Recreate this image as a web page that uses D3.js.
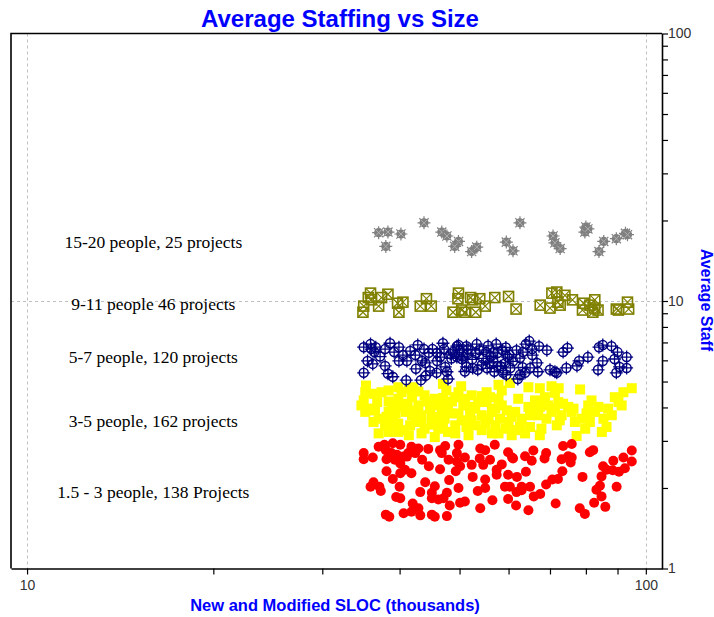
<!DOCTYPE html>
<html lang="en">
<head>
<meta charset="UTF-8">
<title>Average Staffing vs Size</title>
<script src="https://cdn.jsdelivr.net/npm/d3@7"></script>
<style>
  body { margin: 0; background: #fff; font-family: Arial, "Liberation Sans", sans-serif; }
  svg { display: block; }
</style>
</head>
<body>
<div id="chart"></div>
<script>
// [SLOC thousands, average staff]
const staff15to20 = [
  [37.0,18.0],[38.3,18.1],[40.2,17.8],[38.0,16.0],[43.8,19.6],[46.8,18.1],[47.7,17.5],[49.8,16.7],
  [49.1,16.0],[52.3,15.3],[53.3,15.9],[62.6,19.6],[59.5,16.6],[61.0,15.4],[70.8,17.5],[71.3,16.5],
  [72.7,15.7],[80.0,18.9],[79.7,18.1],[85.5,16.7],[84.0,15.3],[89.6,17.1],[92.7,17.9],[80.6,18.6],
  [93.4,17.7]
];
const staff9to11 = [
  [35.9,10.7],[35.6,10.3],[36.0,10.1],[35.0,9.57],[34.9,9.08],[37.4,10.3],[37.0,9.57],[38.3,10.6],
  [39.7,9.81],[40.5,9.90],[39.9,9.08],[43.2,9.57],[44.2,10.2],[45.0,9.57],[49.8,10.7],[49.7,10.2],
  [52.1,10.3],[52.5,10.1],[53.9,10.2],[55.0,9.57],[57.0,10.3],[48.8,9.08],[50.4,9.25],[53.1,9.08],
  [51.0,9.08],[60.0,10.4],[61.7,9.33],[71.8,10.8],[74.0,10.5],[72.1,9.90],[72.7,9.65],[70.0,9.41],
  [76.1,10.1],[79.3,9.81],[79.0,9.25],[82.7,10.1],[82.7,9.41],[82.1,9.08],[89.6,9.33],[90.3,9.25],
  [93.4,9.90],[93.8,9.33],[70.5,10.7],[81.2,9.65],[83.7,9.25],[67.5,9.65]
];
const staff5to7 = [
  [35.0,6.72],[35.9,6.90],[36.0,6.61],[36.6,6.72],[37.9,6.61],[39.2,6.44],[39.9,6.72],[40.5,6.28],
  [42.4,6.28],[43.8,6.61],[45.2,6.61],[47.2,6.61],[49.5,6.78],[51.3,6.78],[53.3,6.90],[55.2,6.44],
  [56.7,6.44],[57.6,6.39],[35.5,5.97],[36.2,5.82],[37.9,5.72],[39.9,5.97],[41.1,5.97],[43.5,5.97],
  [44.0,5.87],[46.0,5.97],[47.4,5.67],[48.3,6.33],[49.5,6.17],[50.4,6.07],[51.5,6.33],[53.1,6.39],
  [51.3,5.67],[52.5,5.62],[53.5,5.53],[54.3,5.77],[55.9,5.87],[56.7,5.92],[57.6,5.72],[35.0,5.39],
  [38.3,5.35],[39.0,5.21],[41.0,5.06],[42.5,5.58],[43.3,5.06],[44.1,5.26],[44.8,5.48],[45.9,5.39],
  [47.7,5.44],[47.9,5.11],[56.9,5.44],[46.5,6.17],[48.8,6.44],[50.0,6.55],
  [64.8,7.08],[67.2,6.78],[69.2,6.55],[63.3,6.44],[65.5,6.61],[62.6,6.12],[65.5,6.28],[73.5,6.44],
  [74.7,6.67],[84.0,6.72],[85.2,6.84],[88.0,6.78],[90.0,6.44],[93.1,6.17],[89.0,6.07],[85.2,5.97],
  [80.6,6.17],[78.0,5.97],[77.4,5.72],[74.4,5.62],[70.0,5.53],[71.3,5.44],[71.8,5.39],[66.9,5.44],
  [65.0,5.62],[63.8,5.39],[62.6,5.30],[62.1,5.11],[59.8,6.17],[59.3,5.87],[60.4,5.62],[58.8,5.39],
  [59.5,5.30],[83.7,5.53],[89.6,5.39],[93.1,5.62],[90.7,5.67],[66.7,5.87],
  [46.0,6.40],[47.0,6.95],[48.5,6.10],[49.8,6.85],[50.6,6.20],[51.6,6.60],[52.4,6.05],[53.8,6.55],
  [54.6,6.10],[55.6,6.80],[56.2,6.20],[57.3,6.90],[58.6,6.55],[59.4,6.70],[60.2,6.30],[61.0,5.95],
  [61.8,6.55],[63.2,5.65],[64.0,6.90],[58.2,5.70],[55.4,5.60],[51.0,5.45],[44.6,6.40],[42.8,6.85],
  [41.6,6.50],[38.6,6.95],[37.2,6.20],[36.4,6.45]
];
const staff3to5 = [
  [35.3,4.83],[35.2,4.56],[36.3,4.50],[38.4,4.63],[39.8,4.76],[41.4,4.70],[42.1,4.76],[42.9,4.59],
  [47.0,4.90],[47.6,4.63],[50.3,4.80],[54.3,4.41],[55.3,4.56],[57.8,4.86],[58.5,4.63],[60.3,4.94],
  [64.6,4.76],[67.4,4.72],[70.4,4.80],[71.3,4.54],[72.3,4.72],[78.3,4.67],[81.7,4.25],[89.1,4.37],
  [92.0,4.56],[94.9,4.72],[90.3,4.19],
  [35.0,4.25],[36.8,4.19],[38.4,4.21],[39.8,4.31],[40.6,4.13],[41.9,4.37],[42.9,4.07],[44.2,4.21],
  [45.6,4.31],[47.0,4.34],[48.6,4.21],[49.2,4.37],[50.7,4.07],[52.0,4.02],[53.0,3.96],[55.3,4.19],
  [57.8,4.31],[58.5,4.07],[64.6,4.02],[67.4,4.02],[69.5,4.07],[72.2,4.19],[73.5,4.13],[76.4,3.96],
  [80.7,4.07],[83.8,4.02],[86.9,3.96],
  [37.0,3.63],[38.4,3.85],[39.4,3.80],[40.9,3.85],[41.9,3.74],[43.4,3.74],[45.1,3.69],[46.8,3.85],
  [48.3,3.80],[49.8,3.80],[52.0,3.74],[54.3,3.74],[56.4,3.85],[58.1,3.63],[60.7,3.69],[63.0,3.63],
  [65.0,3.74],[67.0,3.74],[70.4,3.85],[73.1,3.74],[75.9,3.85],[80.2,3.80],[85.4,3.63],[88.1,3.74],
  [39.8,3.48],[41.6,3.43],[43.4,3.53],[45.1,3.45],[47.0,3.53],[49.2,3.43],[51.3,3.38],[53.0,3.43],
  [55.0,3.48],[57.1,3.43],[60.0,3.53],[62.6,3.38],[65.0,3.38],[67.8,3.33],[71.8,3.43],[79.8,3.33],
  [37.0,3.20],[38.4,3.24],[39.8,3.24],[41.4,3.15],[43.4,3.20],[45.6,3.10],[49.2,3.20],[51.7,3.15],
  [57.8,3.20],[60.7,3.15],[63.8,3.20],[67.4,3.15],[77.3,3.13],[84.9,3.24],
  [35.8,3.96],[37.4,4.56],[38.9,4.07],[40.3,4.56],[42.6,3.90],[43.9,4.44],[44.8,3.96],[46.2,4.07],
  [47.9,4.02],[49.8,4.56],[51.0,4.31],[52.3,4.44],[53.6,4.19],[56.0,4.37],[57.1,3.96],[59.6,3.90],
  [61.5,3.85],[62.2,4.31],[66.2,4.25],[68.7,4.37],[71.3,3.96],[74.9,4.02],[78.8,3.63],[82.8,3.85],
  [91.4,4.07],[35.2,3.85],[36.3,3.53],[37.9,3.43],[39.1,3.53],[40.6,3.29],[42.4,3.53],[43.9,3.33],
  [46.2,3.33],[47.9,3.24],[50.4,3.58],[52.3,3.58],[54.3,3.29],[56.4,3.20],[59.3,3.33],[61.5,3.29],
  [65.3,3.96],[69.1,3.63],[72.6,3.58],[76.8,3.53],[81.2,3.53],[86.4,3.38],[34.7,4.07],[36.5,3.90],
  [38.1,3.69],[39.6,4.02],[41.2,4.07],[45.6,3.58],[47.3,3.63],[55.7,3.63]
];
const staff1to3 = [
  [35.0,2.70],[35.0,2.56],[37.8,2.90],[38.0,2.77],[39.0,2.94],[40.1,2.90],[38.8,2.70],[39.6,2.66],
  [40.6,2.62],[41.3,2.70],[42.4,2.70],[42.9,2.81],[38.1,2.56],[39.3,2.55],[40.1,2.47],[41.1,2.62],
  [38.1,2.31],[39.0,2.16],[40.1,2.27],[40.8,2.34],[41.8,2.27],[44.6,2.41],[46.5,2.77],[47.4,2.87],
  [46.8,2.70],[49.5,2.70],[49.5,2.51],[50.1,2.41],[49.8,2.90],[52.3,2.44],[54.0,2.81],[55.0,2.77],
  [53.9,2.58],[54.6,2.44],[57.0,2.90],[57.4,2.34],[49.3,2.31],[48.1,2.14],[49.8,2.00],[36.3,2.10],
  [35.9,2.02],[37.1,2.02],[40.0,2.02],[40.1,1.83],[43.2,1.93],[45.1,1.92],[45.6,2.03],[45.1,1.83],
  [46.2,1.81],[47.7,1.92],[47.1,1.83],[48.2,1.72],[50.1,1.76],[51.0,1.78],[54.0,1.68],[38.0,1.59],
  [38.5,1.56],[40.6,1.61],[41.8,1.63],[42.9,1.68],[43.2,1.58],[45.1,1.59],[45.6,1.56],[47.7,1.57],
  [55.0,2.15],[55.0,2.00],[57.4,2.24],
  [59.9,2.72],[61.0,2.58],[63.8,2.63],[65.4,2.53],[65.8,2.76],[68.6,2.58],[69.0,2.70],[73.5,2.87],
  [75.9,2.92],[73.1,2.56],[74.9,2.63],[75.6,2.49],[75.9,2.60],[81.2,2.72],[82.2,2.77],[59.9,2.24],
  [61.9,2.20],[59.2,2.02],[60.3,2.02],[61.8,1.93],[63.0,1.96],[63.0,2.02],[65.0,2.02],[59.9,1.82],
  [61.7,1.72],[64.6,1.65],[65.9,1.86],[69.0,2.06],[70.6,2.15],[72.1,2.16],[73.3,2.31],[85.3,2.41],
  [86.4,2.34],[88.6,2.53],[88.4,2.33],[84.8,2.21],[84.3,2.04],[83.2,1.97],[84.8,1.86],[82.5,1.76],
  [89.7,2.02],[92.5,2.37],[94.9,2.51],[94.9,2.76],[78.2,1.68],[79.7,1.60],
  [37.0,2.85],[36.2,2.60],[41.8,2.85],[43.5,2.55],[44.5,2.80],[48.0,2.55],[51.0,2.60],[52.5,2.20],
  [53.5,1.95],[56.5,1.80],[44.0,2.10],[42.0,1.75],[46.5,2.35],[39.5,1.85],[37.3,1.95],[56.0,2.55],
  [58.5,2.45],[60.8,2.60],[64.0,2.30],[67.5,1.90],[71.5,1.75],[79.0,2.20],[86.0,1.70],[90.5,2.30],
  [92.0,2.60]
];

const groupLabels = [
  "15-20 people, 25 projects",
  "9-11 people 46 projects",
  "5-7 people, 120 projects",
  "3-5 people, 162 projects",
  "1.5 - 3 people, 138 Projects"
];
const labelStaff = [16.6, 9.72, 6.17, 3.56, 1.93];
const labelSloc = 16;

const xTicks = [10, 20, 30, 40, 50, 60, 70, 80, 90, 100];
const yTicks = [1,2,3,4,5,6,7,8,9,10,20,30,40,50,60,70,80,90,100];
const tickLabels = [1, 10, 100];

const width = 714, height = 617;
const plotLeft = 11, plotRight = 662, plotTop = 33.5, plotBottom = 568.5;

const svg = d3.select("#chart").append("svg")
  .attr("width", width)
  .attr("height", height);

const x = d3.scaleLog().domain([9.42, 106.2]).range([plotLeft, plotRight]);
const y = d3.scaleLog().domain([1, 100]).range([plotBottom, plotTop]);

// grid
const grid = svg.append("g")
  .attr("stroke", "#c0c0c0")
  .attr("stroke-dasharray", "3,3")
  .attr("stroke-width", 1);
[10, 100].forEach(v => {
  grid.append("line")
    .attr("x1", Math.round(x(v)) + 0.5).attr("x2", Math.round(x(v)) + 0.5)
    .attr("y1", plotTop).attr("y2", plotBottom);
});
grid.append("line")
  .attr("x1", plotLeft).attr("x2", plotRight)
  .attr("y1", Math.round(y(10)) + 0.5).attr("y2", Math.round(y(10)) + 0.5);

// frame
svg.append("path")
  .attr("d", `M${plotRight},${plotTop}H${plotLeft}V${plotBottom}`)
  .attr("fill", "none")
  .attr("stroke", "#000")
  .attr("stroke-width", 1.6);

// axes
const fmt = d => tickLabels.includes(d) ? d : "";

const xAxis = svg.append("g")
  .attr("transform", `translate(0,${plotBottom})`)
  .call(d3.axisBottom(x).tickValues(xTicks).tickFormat(fmt).tickSize(6).tickSizeOuter(0));

const yAxis = svg.append("g")
  .attr("transform", `translate(${plotRight},0)`)
  .call(d3.axisRight(y).tickValues(yTicks).tickFormat(fmt).tickSize(6).tickSizeOuter(0));

[xAxis, yAxis].forEach(g => {
  g.select(".domain").attr("stroke", "#000").attr("stroke-width", 1.6);
  g.selectAll(".tick line").attr("stroke", "#000").attr("stroke-width", 1.2);
  g.selectAll(".tick text")
    .attr("fill", "#333")
    .style("font-family", "Arial, 'Liberation Sans', sans-serif")
    .style("font-size", "14px");
});
xAxis.selectAll(".tick text").attr("dy", "0.9em");
yAxis.selectAll(".tick text").attr("x", 6);

// markers
const plot = svg.append("g");

function drawSeries(data, kind) {
  const g = plot.append("g");
  const pts = g.selectAll("g").data(data).join("g")
    .attr("transform", d => `translate(${x(d[0])},${y(d[1])})`);
  if (kind === "circle") {
    pts.append("circle").attr("r", 5).attr("fill", "#ff0000");
  } else if (kind === "square") {
    pts.append("rect").attr("x", -5).attr("y", -5).attr("width", 10).attr("height", 10)
      .attr("fill", "#ffff00");
  } else if (kind === "target") {
    pts.append("circle").attr("r", 4.5).attr("fill", "none")
      .attr("stroke", "#000080").attr("stroke-width", 1.5);
    pts.append("path").attr("d", "M-6.5,0H6.5M0,-6.5V6.5")
      .attr("stroke", "#000080").attr("stroke-width", 1.3);
  } else if (kind === "boxx") {
    pts.append("rect").attr("x", -5).attr("y", -5).attr("width", 10).attr("height", 10)
      .attr("fill", "none").attr("stroke", "#808000").attr("stroke-width", 1.6);
    pts.append("path").attr("d", "M-5,-5L5,5M5,-5L-5,5")
      .attr("stroke", "#808000").attr("stroke-width", 1.2);
  } else if (kind === "star") {
    pts.append("circle").attr("r", 4.6).attr("fill", "#808080");
    pts.append("path")
      .attr("d", "M-6.5,0H6.5M0,-6.5V6.5M-4.6,-4.6L4.6,4.6M4.6,-4.6L-4.6,4.6")
      .attr("stroke", "#808080").attr("stroke-width", 1.2);
    pts.append("path").attr("d", "M-3,-3L3,3M3,-3L-3,3")
      .attr("stroke", "#b0b0b0").attr("stroke-width", 1);
  }
}

drawSeries(staff3to5, "square");
drawSeries(staff1to3, "circle");
drawSeries(staff5to7, "target");
drawSeries(staff9to11, "boxx");
drawSeries(staff15to20, "star");

// group annotations
svg.append("g").selectAll("text").data(groupLabels).join("text")
  .attr("x", x(labelSloc))
  .attr("y", (d, i) => y(labelStaff[i]))
  .attr("dy", "0.35em")
  .attr("text-anchor", "middle")
  .style("font-family", "'Liberation Serif', 'Times New Roman', serif")
  .style("font-size", "17.5px")
  .attr("fill", "#000")
  .text(d => d);

// titles
svg.append("text")
  .attr("x", 340).attr("y", 27)
  .attr("text-anchor", "middle")
  .attr("fill", "#0000ff")
  .style("font-weight", "bold")
  .style("font-size", "24px")
  .text("Average Staffing vs Size");

svg.append("text")
  .attr("x", 335).attr("y", 611)
  .attr("text-anchor", "middle")
  .attr("fill", "#0000ff")
  .style("font-weight", "bold")
  .style("font-size", "16.5px")
  .text("New and Modified SLOC (thousands)");

svg.append("text")
  .attr("transform", "translate(701,300) rotate(90)")
  .attr("text-anchor", "middle")
  .attr("fill", "#0000ff")
  .style("font-weight", "bold")
  .style("font-size", "16px")
  .text("Average Staff");
</script>
</body>
</html>
